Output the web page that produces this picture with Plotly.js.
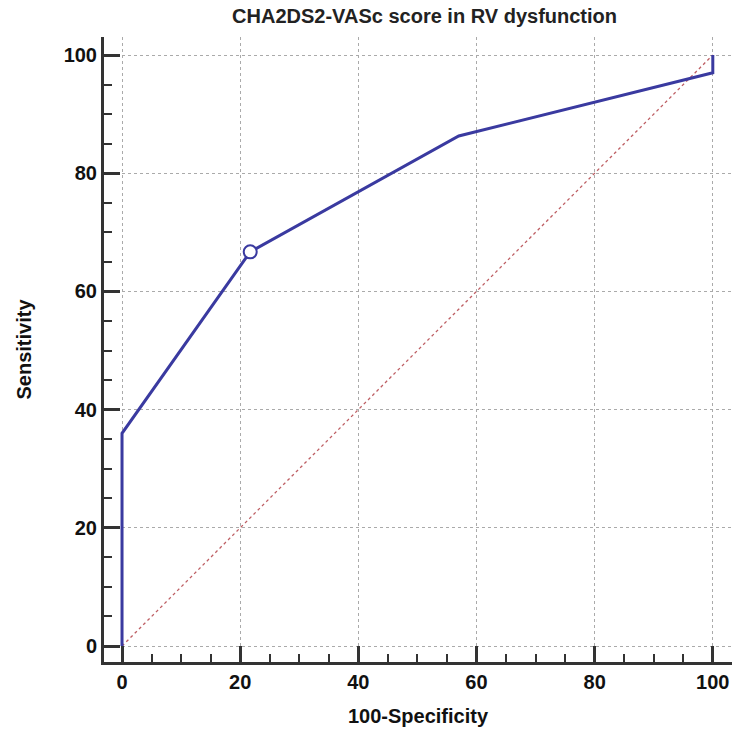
<!DOCTYPE html>
<html>
<head>
<meta charset="utf-8">
<script src="https://cdn.plot.ly/plotly-3.0.1.min.js"></script>
<style>html,body{margin:0;padding:0;background:#fff;}#chart{width:732px;height:730px;}</style>
</head>
<body>
<div id="chart"></div>
<script>
// ROC curve data
const fpr = [0, 0, 21.7, 57, 100, 100];          // 100-Specificity
const tpr = [0, 36, 66.7, 86.3, 97, 100];        // Sensitivity
const criterionX = [21.7];
const criterionY = [66.7];
const diagX = [0, 100];
const diagY = [0, 100];
const tickVals = [0, 20, 40, 60, 80, 100];
const tickText = ['0', '20', '40', '60', '80', '100'];

const FONT = 'Liberation Sans, Arial, sans-serif';
function makeAxis(range, titleText, standoff) {
  return {
    range: range,
    showline: true, linecolor: '#333', linewidth: 3,
    ticks: 'inside', ticklen: 16, tickwidth: 3, tickcolor: '#333',
    tickmode: 'array', tickvals: tickVals.slice(), ticktext: tickText.slice(),
    showgrid: true, gridcolor: '#aaa', griddash: 'dot', gridwidth: 1,
    zeroline: false, mirror: false, layer: 'above traces',
    tickfont: {family: FONT, size: 20, color: '#111', weight: 'bold'},
    minor: {dtick: 5, tick0: 0, ticks: 'inside', ticklen: 8, tickwidth: 2, tickcolor: '#333', showgrid: false},
    title: {text: titleText, font: {family: FONT, size: 20, color: '#111', weight: 'bold'}, standoff: standoff}
  };
}

const data = [
  {x: diagX, y: diagY, mode: 'lines', line: {color: 'rgb(190,95,100)', width: 1.3, dash: 'dot'}, hoverinfo: 'skip'},
  {x: fpr, y: tpr, mode: 'lines', line: {color: 'rgb(58,58,160)', width: 3}},
  {x: criterionX, y: criterionY, mode: 'markers', marker: {symbol: 'circle', size: 13, color: '#fff', line: {color: 'rgb(58,58,160)', width: 2}}}
];

const layout = {
  width: 732, height: 730,
  margin: {l: 104, r: 0, t: 37, b: 68},
  paper_bgcolor: '#fff', plot_bgcolor: '#fff',
  showlegend: false,
  title: {text: 'CHA2DS2-VASc score in RV dysfunction', font: {family: FONT, size: 20, color: '#222', weight: 'bold'}, x: 0.58, xanchor: 'center', y: 0.988, yanchor: 'top'},
  xaxis: makeAxis([-3.05, 103.25], '100-Specificity', 17),
  yaxis: makeAxis([-2.7, 103.05], 'Sensitivity', 27)
};

Plotly.newPlot('chart', data, layout, {displayModeBar: false, staticPlot: true});
</script>
</body>
</html>
